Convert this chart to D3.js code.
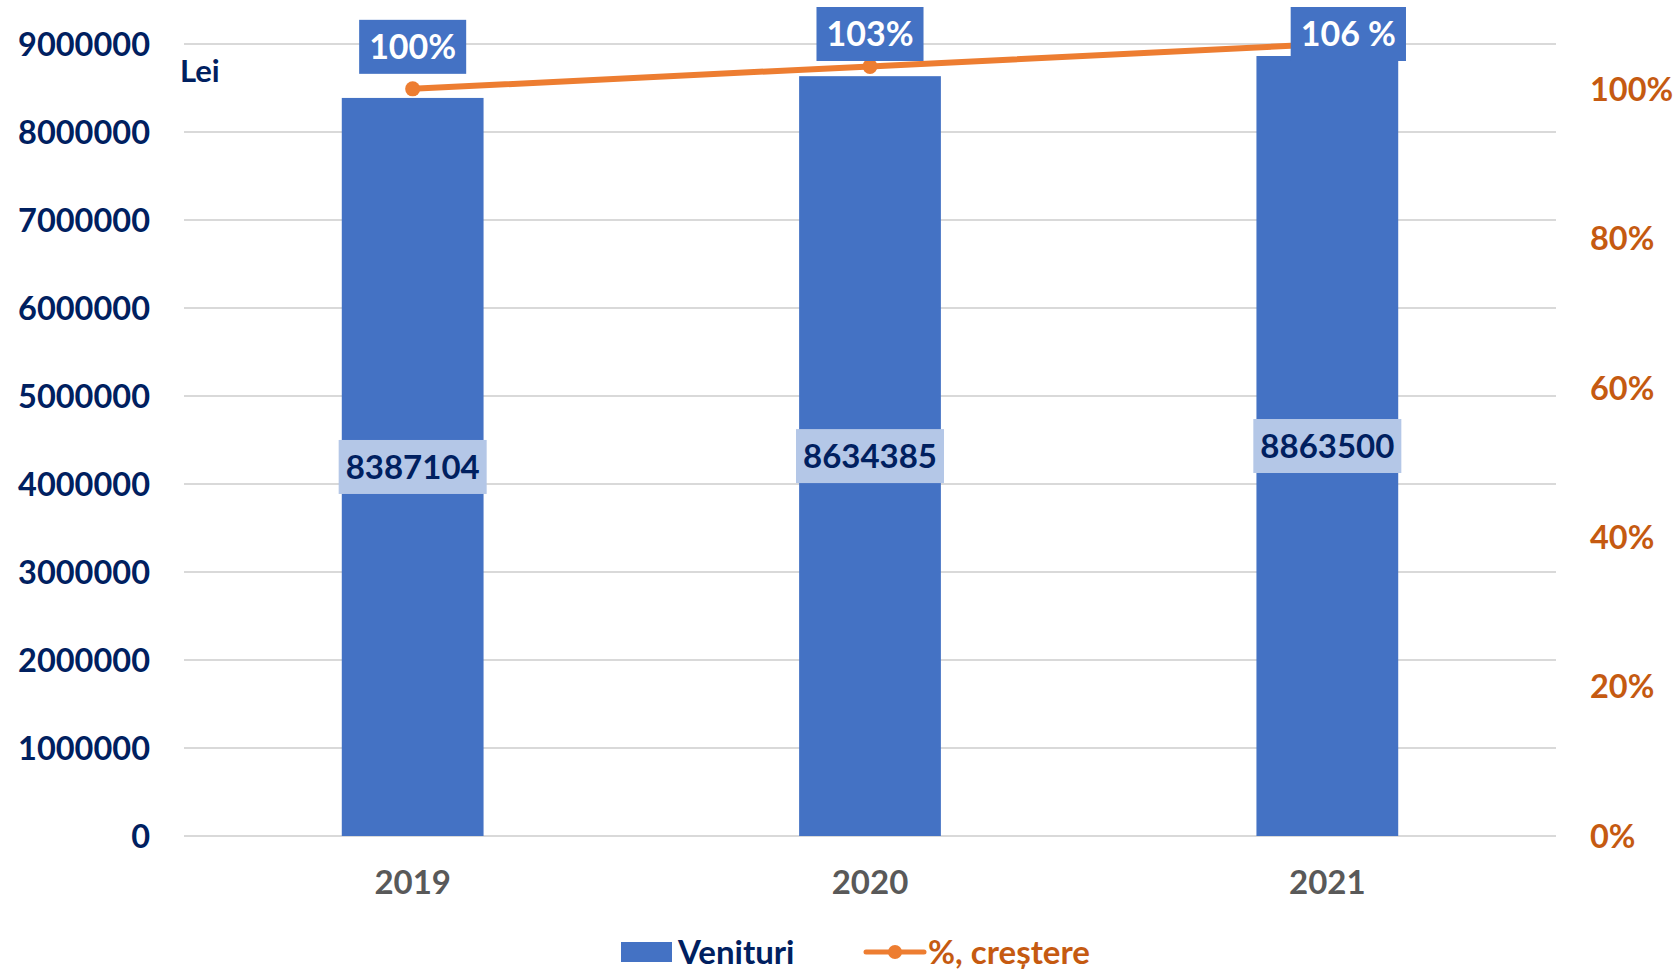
<!DOCTYPE html>
<meta charset="utf-8">
<style>
  body { margin: 0; background: #fff; }
  svg text { font-family: Lato, "Open Sans", sans-serif; font-weight: bold; }
</style>
<div class="chart"></div>
<script src="https://cdn.jsdelivr.net/npm/d3@7"></script>
<script>
    // data
    var years = ["2019", "2020", "2021"];
    var venituri = [8387104, 8634385, 8863500];
    var crestere = [1.00, 1.03, 1.06];
    var crestereLabels = ["100%", "103%", "106 %"];
    var leftTicks = [0, 1000000, 2000000, 3000000, 4000000, 5000000, 6000000, 7000000, 8000000, 9000000];
    var rightTicks = [0, 0.2, 0.4, 0.6, 0.8, 1.0];

    var width = 1680, height = 971;
    var margin = {top: 44, right: 124, bottom: 135, left: 184};

    var navy = "#002060", orange = "#ED7D31", orangeText = "#C55A11",
        barColor = "#4472C4", labelBox = "#B4C7E7";

    var svg = d3.select(".chart").append("svg")
        .attr("width", width)
        .attr("height", height);

    var x = d3.scaleBand()
        .domain(years)
        .range([margin.left, width - margin.right])
        .paddingInner(0.69)
        .paddingOuter(0.345);

    var y = d3.scaleLinear()
        .domain([0, 9000000])
        .range([height - margin.bottom, margin.top]);

    var y2 = d3.scaleLinear()
        .domain([0, 1.06])
        .range([height - margin.bottom, margin.top]);

    // gridlines
    svg.append("g")
        .selectAll("line")
        .data(leftTicks)
        .enter().append("line")
        .attr("x1", margin.left)
        .attr("x2", width - margin.right)
        .attr("y1", (d) => y(d))
        .attr("y2", (d) => y(d))
        .attr("stroke", "#d9d9d9")
        .attr("stroke-width", 2);

    // left axis
    var yAxis = d3.axisLeft(y).tickValues(leftTicks).tickSize(0).tickPadding(0).tickFormat((d) => d);
    var gy = svg.append("g")
        .attr("transform", "translate(150,0)")
        .call(yAxis);
    gy.select(".domain").remove();
    gy.selectAll("text")
        .attr("fill", navy)
        .attr("font-size", "32.5px")
        .attr("dy", "0.35em");

    // right axis
    var y2Axis = d3.axisRight(y2).tickValues(rightTicks).tickSize(0).tickPadding(0).tickFormat(d3.format(".0%"));
    var gy2 = svg.append("g")
        .attr("transform", "translate(1590,0)")
        .call(y2Axis);
    gy2.select(".domain").remove();
    gy2.selectAll("text")
        .attr("fill", orangeText)
        .attr("font-size", "32.5px")
        .attr("dy", "0.35em");

    // x axis labels
    var xAxis = d3.axisBottom(x).tickSize(0).tickPadding(0);
    var gx = svg.append("g")
        .attr("transform", "translate(0," + (height - margin.bottom) + ")")
        .call(xAxis);
    gx.select(".domain").remove();
    gx.selectAll("text")
        .attr("fill", "#595959")
        .attr("font-size", "33px")
        .attr("dy", "1.75em");

    // bars
    svg.append("g")
        .selectAll("rect")
        .data(venituri)
        .enter().append("rect")
        .attr("x", (d, i) => x(years[i]))
        .attr("width", x.bandwidth())
        .attr("y", (d) => y(d))
        .attr("height", (d) => y(0) - y(d))
        .attr("fill", barColor);

    // value labels in bars
    var vl = svg.append("g")
        .selectAll("g")
        .data(venituri)
        .enter().append("g")
        .attr("transform", (d, i) => "translate(" + (x(years[i]) + x.bandwidth() / 2) + "," + ((y(d) + y(0)) / 2) + ")");
    vl.append("rect")
        .attr("x", -74)
        .attr("y", -27)
        .attr("width", 148)
        .attr("height", 54)
        .attr("fill", labelBox);
    vl.append("text")
        .attr("text-anchor", "middle")
        .attr("dy", "0.35em")
        .attr("font-size", "33px")
        .attr("fill", navy)
        .text((d) => d);

    // growth line
    var line = d3.line()
        .x((d, i) => x(years[i]) + x.bandwidth() / 2)
        .y((d) => y2(d));

    svg.append("path")
        .datum(crestere)
        .attr("d", line)
        .attr("fill", "none")
        .attr("stroke", orange)
        .attr("stroke-width", 6);

    svg.append("g")
        .selectAll("circle")
        .data(crestere)
        .enter().append("circle")
        .attr("cx", (d, i) => x(years[i]) + x.bandwidth() / 2)
        .attr("cy", (d) => y2(d))
        .attr("r", 7.5)
        .attr("fill", orange);

    // growth labels (the last one sits a bit to the right in the original)
    var labelShift = [0, 0, 21];
    var pl = svg.append("g")
        .selectAll("g")
        .data(crestere)
        .enter().append("g")
        .attr("transform", (d, i) => "translate(" + (x(years[i]) + x.bandwidth() / 2 + labelShift[i]) + "," + Math.max(34, y2(d) - 42) + ")");
    pl.append("text")
        .attr("text-anchor", "middle")
        .attr("dy", "0.35em")
        .attr("font-size", "34px")
        .attr("fill", "#fff")
        .text((d, i) => crestereLabels[i])
        .each(function() {
            var bb = this.getBBox();
            d3.select(this.parentNode).insert("rect", "text")
                .attr("x", bb.x - 10)
                .attr("y", -27)
                .attr("width", bb.width + 20)
                .attr("height", 54)
                .attr("fill", barColor);
        });

    // unit label
    svg.append("text")
        .attr("x", 180)
        .attr("y", 71)
        .attr("dy", "0.35em")
        .attr("font-size", "31px")
        .attr("fill", navy)
        .text("Lei");

    // legend
    var legend = svg.append("g").attr("transform", "translate(0,952)");
    legend.append("rect")
        .attr("x", 621).attr("y", -10)
        .attr("width", 51).attr("height", 20)
        .attr("fill", barColor);
    legend.append("text")
        .attr("x", 678).attr("dy", "0.35em")
        .attr("font-size", "33px")
        .attr("fill", navy)
        .text("Venituri");
    legend.append("line")
        .attr("x1", 866).attr("x2", 924)
        .attr("stroke", orange).attr("stroke-width", 5)
        .attr("stroke-linecap", "round");
    legend.append("circle")
        .attr("cx", 895).attr("r", 7)
        .attr("fill", orange);
    legend.append("text")
        .attr("x", 928).attr("dy", "0.35em")
        .attr("font-size", "33px")
        .attr("fill", orangeText)
        .text("%, creștere");
</script>
